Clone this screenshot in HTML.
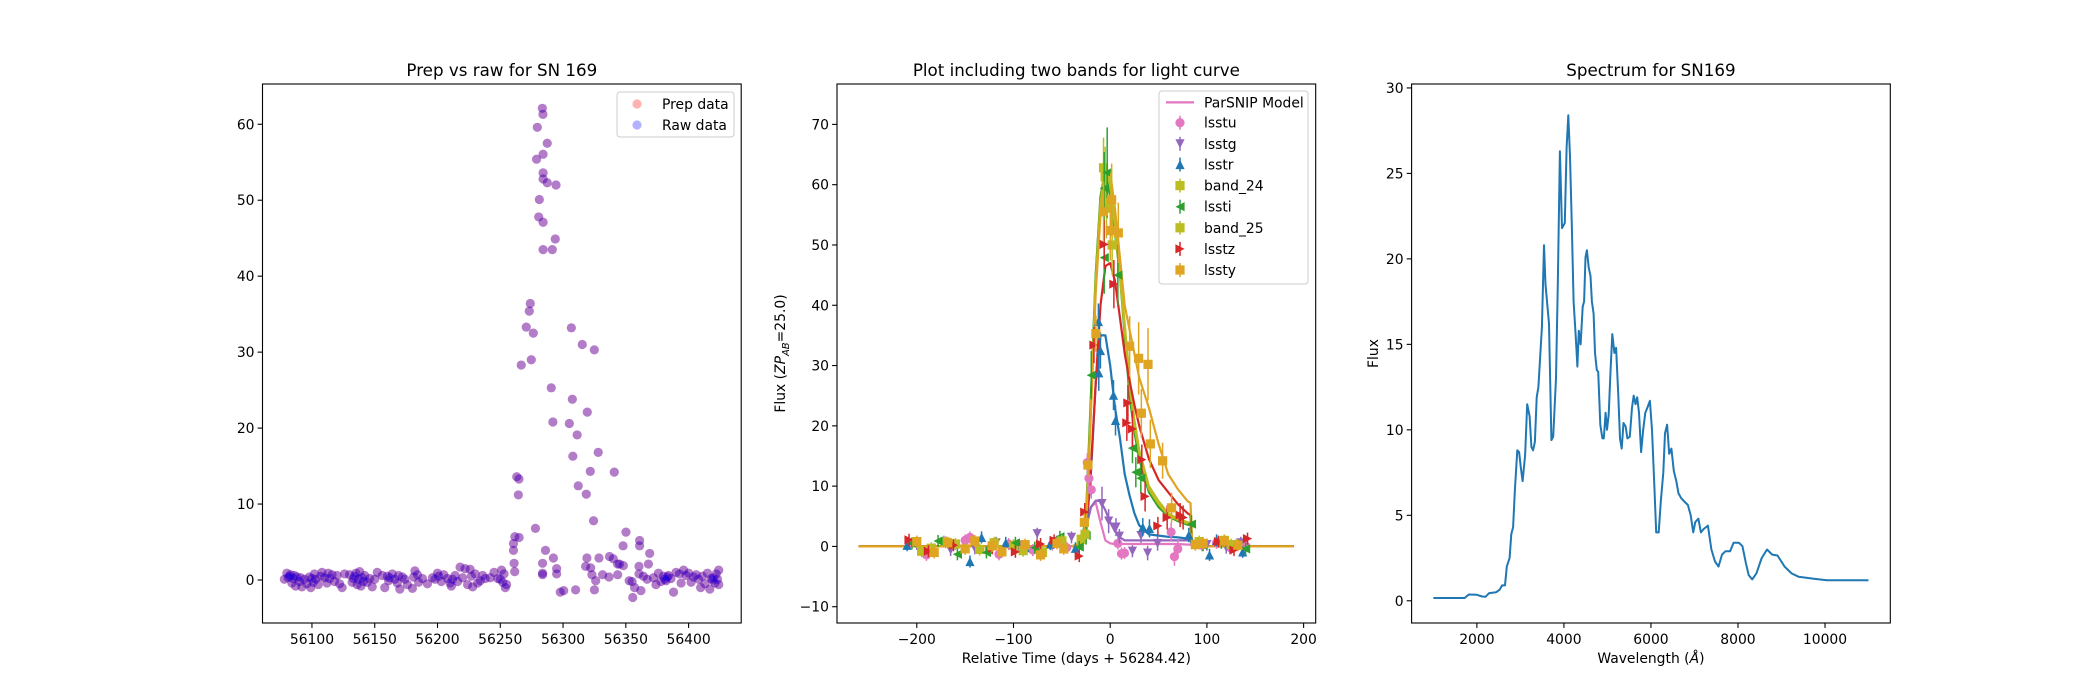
<!DOCTYPE html>
<html><head><meta charset="utf-8"><style>
html,body{margin:0;padding:0;background:#fff;}
svg{display:block;font-family:"DejaVu Sans","Liberation Sans",sans-serif;}
</style></head><body>
<svg id="fig" width="2100" height="700" viewBox="0 0 2100 700" xmlns="http://www.w3.org/2000/svg">
<rect width="2100" height="700" fill="#fff"/>
<g id="p1"></g>
<g id="p2"></g>
<g id="p3"></g>
</svg>
<script>
// ---------- Panel 1 data ----------
const p1Times = [56078,56080,56081,56082,56083,56084,56085,56086,56087,56088,56090,56091,56092,56094,56096,56098,56099,56100,56101,56102,56103,56105,56107,56108,56110,56112,56113,56114,56116,56118,56120,56122,56124,56126,56130,56132,56133,56134,56135,56136,56137,56138,56139,56140,56141,56142,56144,56146,56148,56150,56152,56156,56158,56160,56161,56162,56164,56166,56168,56169,56170,56172,56174,56176,56180,56181,56182,56184,56185,56188,56192,56196,56198,56200,56201,56203,56205,56208,56210,56211,56212,56214,56216,56218,56220,56222,56224,56226,56227,56228,56230,56232,56234,56236,56238,56242,56245,56248,56250,56251,56252,56253,56254,56255,
56260.5,56261.6,56265,56260.5,56261,56261.5,56263.1,56264.9,56264.4,56266.7,56270.7,56273.1,56273.9,56274.7,56276.3,56278,56278.9,56279.5,56280.6,56281.1,56283.5,56284,56284.1,56284.1,56284.1,56284.1,56284.1,56283.7,56283.7,56283.7,56286,56287.4,56287.4,56290.6,56291.4,56291.9,56292.3,56293.8,56294.4,56294.9,56294.9,56297.8,56300.5,56305,56306.6,56307.4,56307.8,56310,56311.2,56312.1,56315.3,56318,56318.5,56319,56319.3,56321.7,56322,56323,56324.3,56324.9,56325,56326,56328,56328.6,56331.5,56336.6,56337,56340,56340.8,56343.5,56343.5,56345,56347.8,56348,56350.1,56352.7,56355,56355.5,56357,56360.5,56360.5,56361,56361,56362,56364,56367,56368,56369,
56372,56374,56376,56378,56380,56381,56382,56383,56384,56386,56388,56390,56392.7,56394,56396,56398,56400,56402,56404,56406,56408,56409.6,56411,56413,56415,56416.9,56418,56419,56420,56421,56422,56423,56424,56424];
const p1Flux = [0.1,0.9,0.3,0.5,0.7,-0.4,0.2,0.6,-0.8,0.4,-0.2,0.3,-0.9,0.1,-0.5,0.4,-1.0,0.2,-0.3,0.8,0.1,-0.6,0.5,1.0,0.3,-0.4,0.9,0.2,0.7,-0.2,0.6,-0.5,-1.0,0.8,0.7,-0.3,0.2,0.5,0.9,-0.6,0.1,1.1,-0.8,0.3,-0.2,0.6,-0.3,0.2,-0.9,0.1,1.0,0.6,-1.0,0.5,-0.1,0.3,0.8,0.1,-0.4,0.6,-1.2,0.4,0.1,-0.6,-1.1,0.4,1.2,0.7,-0.3,0.2,-0.5,0.3,0.1,0.9,0.5,-0.2,0.7,0.2,-0.4,-0.8,0.1,0.6,-0.2,1.7,0.3,1.5,-0.6,1.4,0.5,-0.9,0.8,-0.4,-0.1,0.6,0.2,0.3,1.0,0.2,0.1,1.3,-0.3,0.8,-1.0,-0.6,
4.8,5.7,5.6,3.9,2.2,1.1,13.6,13.3,11.2,28.3,33.3,35.4,36.4,29.0,32.5,6.8,55.4,59.6,47.8,50.1,62.1,61.3,56.05,53.6,52.8,47.1,43.5,2.2,0.9,0.7,3.9,57.5,52.3,25.3,43.5,20.8,2.9,44.9,52.0,1.5,0.8,-1.6,-1.4,20.6,33.2,23.8,16.3,-1.3,19.1,12.4,31.0,1.8,11.3,2.9,22.1,14.3,1.6,0.7,7.8,30.3,-1.3,-0.1,16.8,2.9,0.7,0.4,3.1,2.8,14.2,2.1,0.7,2.1,4.5,1.9,6.3,-0.1,-0.2,-2.3,-1.0,1.8,0.8,5.2,4.5,-1.4,0.5,0.1,2.1,3.5,
0.3,-0.6,0.9,-0.2,0.5,0.1,-0.1,0.4,0.6,0.2,-1.6,1.0,0.8,-0.4,1.3,0.6,0.9,-0.3,0.4,0.7,0.1,-1.0,0.5,-0.5,0.9,-1.2,0.2,0.0,0.3,-0.4,0.8,0.1,1.3,-0.6];
const p1Ticks = [56100,56150,56200,56250,56300,56350,56400];
const p1YTicks = [0,10,20,30,40,50,60];

// ---------- Panel 2 data ----------
const bandNames = ["lsstu","lsstg","lsstr","band_24","lssti","band_25","lsstz","lssty"];
const bandColors = ["#e377c2","#9467bd","#1f77b4","#bcbd22","#2ca02c","#bcbd22","#d62728","#dfa421"];
const bandMarkers = ["o","v","^","s","<","s",">","s"];
const modelTimes = [-260,-40,-30,-25,-20,-15,-10,-5,0,5,10,15,20,25,30,40,50,60,70,80,83,85,190];
const modelU  = [0,0,0.2,3,6.5,7.3,4,1,0.5,0.4,0.4,0.4,0.4,0.4,0.4,0.4,0.4,0.4,0.4,0.3,0.3,0,0];
const modelG  = [0,0,0.3,3,6.5,7.6,7.5,6,4,2.5,1.5,1.0,1,1,1,1,1,1,1,1,1,0,0];
const modelR  = [0,0,0.3,2,12,27,35,35,30,23,18,12,8.5,5.5,3.5,2,1.8,1.6,1.5,1.3,1.2,0,0];
const model24 = [0,0,0.5,4,24,45,58,63,60,54,46,37,28,21,16,10,7.5,5.5,4.6,4,3.9,0,0];
const modelI  = [0,0,0.5,5,25,45,58,62,58,52,45,35,25,19,14.5,9,6.5,5,4.2,3.6,3.5,0,0];
const model25 = [0,0,0.5,4,23,44,57,62.5,60,53,45,36,27,20,15.5,9.5,7,5.2,4.4,3.8,3.7,0,0];
const modelZ  = [0,0,0.4,3,13,27,40,46.5,47,44,38,32,27.5,23.5,20,14.5,11,9,7,5.5,5.2,0,0];
const modelY  = [0,0,0.4,3,22,42,55,61.5,62,56,48,40,36,32,28,23,17,12,9.5,7.5,7.2,0,0];

const uT=[-208,-190,-172,-150,-145,-125,-115,-105,-80,-60,-45,-23.7,-22,-19.6,7.9,11.7,14.8,63,66.4,69.9,95,110,125,140];
const uF=[0.5,-1.4,0.8,1.0,1.5,-0.5,-1.3,0.4,-0.6,0.3,-0.2,13.9,11.3,9.4,0.5,-1.2,-1.1,2.4,-1.7,-0.4,0.2,0.6,-0.3,0.1];
const uE=[1,1,1,1,1,1,1,1,1,1,1,1.5,1.5,1.5,1,1,1,1.5,1.5,1.5,1,1,1,1];
const gT=[-200,-165,-140,-118,-95,-75.5,-55,-40,-8.5,-1.6,6,9.5,23,31.8,38.7,49,100,120,135];
const gF=[0.4,-0.6,-0.3,0.6,0.2,2.1,0.8,1.5,7.1,4.2,3.2,1.7,-0.8,1.8,-1.1,0.5,0.3,-0.2,0.6];
const gE=[1,1,1,1,1,1,1,1,2.8,2,1.5,1.2,1,1.2,1.2,1.2,1,1,1];
const rT=[-210,-182,-145,-133,-108,-88,-62,-36,-12.2,-10.1,-11.8,3.4,5.5,33.7,40.6,81.3,102.7,110,137];
const rF=[0.2,-0.5,-2.5,1.5,0.6,-0.2,0.4,-0.3,37.3,32.5,28.8,25.1,20.9,3.2,3.0,1.9,-1.4,1.0,-0.9];
const rE=[1,1,1,1,1,1,1,1,3,3,3,2.5,2.5,1.5,1.5,1.2,1,1,1];
const b24T=[-195,-170,-135,-100,-70,-30,-6.9,-5.2,-3.8,92,118,130];
const b24F=[-0.8,0.7,-0.5,0.2,-1.0,1.2,62.8,61.3,56.1,0.5,1.0,0.2];
const b24E=[1,1,1,1,1,1,5,5,5,1,1,1];
const iT=[-205,-178,-158,-128,-98,-78,-52,-32,-24.9,-19.6,-6.2,-6.2,-3.1,7.9,23,26.5,31.7,84,96,115,140];
const iF=[0.5,0.9,-1.3,-1.0,0.6,-0.2,1.6,-0.1,1.8,28.4,59.4,47.9,62,45,16.3,12.3,11.3,3.7,0.2,0.6,-0.4];
const iE=[1,1,1,1,1,1,1,1,1.5,4,6,6,7.5,5,2.5,2.5,2.5,1.5,1,1,1];
const b25T=[-185,-160,-120,-90,-50,-26,0.5,2,92,125];
const b25F=[-0.3,0.4,0.6,-0.7,0.9,2.0,57,50,0.8,0.3];
const b25E=[1,1,1,1,1,1,5,5,1,1];
const zT=[-208,-188,-162,-122,-98,-72,-58,-32,-26.3,-16.8,-6.2,3.8,17.2,18.3,23,32.7,36.1,49.3,58.9,72.3,75.4,112,128,142];
const zF=[1.1,-0.8,0.2,-0.3,-0.9,0.4,1.0,-1.6,5.7,33.4,50.1,43.5,20.5,23.8,19.5,14.4,8.3,3.4,4.8,5.2,4.8,0.8,-0.6,1.3];
const zE=[1,1,1,1,1,1,1,1,1.5,3,4,4,3,3,3,2.5,2.5,1.5,2,2,2,1,1,1];
const yT=[-200,-182,-168,-150,-140,-122,-112,-88,-72,-55,-48,-26.7,-23,-14.8,-6.9,1.5,0.1,8.4,20.1,29.4,39.1,32.2,41.5,54.2,63.5,88,96,118,132];
const yF=[0.8,-1.0,0.6,-0.4,0.9,0.1,-0.9,0.3,-1.4,0.5,-0.4,4,13.5,35.3,55.5,57.5,52.4,52,33.2,31.2,30.2,22.1,17,14.2,6.4,0.3,0.5,0.9,0.2];
const yE=[1,1,1,1,1,1,1,1,1,1,1,1.5,2,3,5,6,5,5,5,6,6,4,4,3,2.5,1,1,1,1];
const p2XTicks=[-200,-100,0,100,200];
const p2YTicks=[-10,0,10,20,30,40,50,60,70];

// ---------- Panel 3 data ----------
const specWave=[1000,1717,1814,2000,2121,2200,2283,2444,2525,2580,2646,2687,2752,2792,2832,2873,2929,2970,3010,3050,3107,3156,3212,3253,3293,3333,3374,3414,3495,3543,3576,3657,3713,3754,3818,3859,3907,3956,4020,4061,4101,4141,4182,4222,4271,4311,4343,4384,4432,4465,4497,4529,4570,4610,4642,4683,4715,4756,4788,4836,4885,4917,4958,4990,5030,5071,5111,5160,5200,5249,5289,5329,5370,5418,5459,5515,5564,5604,5644,5685,5725,5774,5822,5871,5919,5976,6024,6081,6121,6178,6226,6283,6323,6372,6420,6469,6525,6582,6630,6695,6768,6848,6913,6970,7018,7091,7148,7212,7309,7390,7471,7552,7632,7713,7818,7899,8020,8101,8182,8247,8327,8424,8545,8666,8787,8909,9070,9232,9394,9717,10040,10364,11000];
const specFlux=[0.16,0.16,0.37,0.35,0.25,0.24,0.45,0.5,0.65,0.9,0.9,2.0,2.5,3.9,4.3,6.5,8.8,8.7,7.8,7.0,8.5,11.5,10.8,9.0,8.8,9.3,11.9,12.5,16,20.8,18.5,16.2,9.4,9.6,13,18.5,26.3,21.8,22.1,26.5,28.4,26.0,22,17.5,15.5,13.7,15.8,15.0,17.2,17.5,20.1,20.5,19.5,19.0,17.5,16.8,14.5,13.5,13.4,10.3,9.5,9.5,11.0,10.0,10.9,13.4,15.6,14.5,14.8,12,9.5,8.9,10.4,10.2,9.5,9.6,11.3,12.0,11.5,11.9,11.0,8.7,10.0,11.0,11.3,11.7,10.0,6.5,4.0,4.0,5.8,7.5,9.8,10.3,8.6,8.9,7.6,7.0,6.3,6.0,5.8,5.6,5.0,4.0,4.6,4.8,4.0,4.2,4.4,3.0,2.3,2.0,2.7,2.9,2.9,3.4,3.4,3.2,2.2,1.5,1.25,1.6,2.5,3.0,2.7,2.65,2.0,1.6,1.4,1.3,1.2,1.2,1.2];
const p3XTicks=[2000,4000,6000,8000,10000];
const p3YTicks=[0,5,10,15,20,25,30];

// ---------- helpers ----------
const NS="http://www.w3.org/2000/svg";
function mk(parent,tag,attrs,text){const e=document.createElementNS(NS,tag);for(const k in attrs)e.setAttribute(k,attrs[k]);if(text!==undefined)e.textContent=text;parent.appendChild(e);return e;}
function axis(x0,x1,y0,y1,px,w,py,h){return{x:v=>px+(v-x0)/(x1-x0)*w,y:v=>py+h-(v-y0)/(y1-y0)*h,px,py,w,h};}
const TOP=84,H=539,W=478.7;
function fmt(v){return v<0?"\u2212"+(-v):String(v);}
function frame(g,ax,xt,yt,title){
  let t;
  for(const v of xt){const X=ax.x(v);
    t=mk(g,"line",{x1:X,x2:X,y1:ax.py+ax.h,y2:ax.py+ax.h+4.9,stroke:"#000","stroke-width":1.1});
    
    t=mk(g,"text",{x:X,y:ax.py+ax.h+21,"font-size":"13.9","text-anchor":"middle"},fmt(v));
    }
  for(const v of yt){const Y=ax.y(v);
    t=mk(g,"line",{x1:ax.px-4.9,x2:ax.px,y1:Y,y2:Y,stroke:"#000","stroke-width":1.1});
    
    t=mk(g,"text",{x:ax.px-8,y:Y+5,"font-size":"13.9","text-anchor":"end"},fmt(v));
    }
  t=mk(g,"rect",{x:ax.px,y:ax.py,width:ax.w,height:ax.h,fill:"none",stroke:"#000","stroke-width":1.1});
  
  t=mk(g,"text",{x:ax.px+ax.w/2,y:ax.py-8,"font-size":"16.7","text-anchor":"middle"},title);
  
}
function marker(g,type,x,y,c,s){
  let e;
  if(type==="o")e=mk(g,"circle",{cx:x,cy:y,r:s,fill:c});
  else if(type==="s")e=mk(g,"rect",{x:x-s,y:y-s,width:2*s,height:2*s,fill:c});
  else{let p;
    if(type==="v")p=[[x-s,y-s],[x+s,y-s],[x,y+s]];
    if(type==="^")p=[[x-s,y+s],[x+s,y+s],[x,y-s]];
    if(type==="<")p=[[x+s,y-s],[x+s,y+s],[x-s,y]];
    if(type===">")p=[[x-s,y-s],[x-s,y+s],[x+s,y]];
    e=mk(g,"polygon",{points:p.map(q=>q.join(",")).join(" "),fill:c});}
  return e;
}

// ---------- Panel 1 ----------
(function(){
  const g=document.getElementById("p1");
  const A=axis(56060.6,56441.9,-5.66,65.3,262.5,W,TOP,H);
  const pts=mk(g,"g",{});
  
  for(let i=0;i<p1Times.length;i++){
    let c=mk(pts,"circle",{cx:A.x(p1Times[i]),cy:A.y(p1Flux[i]),r:4.6,fill:"#ff0000","fill-opacity":0.3});
    
  }
  for(let i=0;i<p1Times.length;i++){
    let c=mk(pts,"circle",{cx:A.x(p1Times[i]),cy:A.y(p1Flux[i]),r:4.6,fill:"#0000ff","fill-opacity":0.3});
    
  }
  frame(g,A,p1Ticks,p1YTicks,"Prep vs raw for SN 169");
  const lg=mk(g,"g",{});
  
  mk(lg,"rect",{x:617,y:92,width:117,height:45,rx:3,fill:"#fff","fill-opacity":0.8,stroke:"#ccc"});
  let e=mk(lg,"circle",{cx:637,cy:104,r:4.6,fill:"#ff0000","fill-opacity":0.3});
  
  e=mk(lg,"text",{x:662,y:109,"font-size":"13.9"},"Prep data");
  
  e=mk(lg,"circle",{cx:637,cy:125,r:4.6,fill:"#0000ff","fill-opacity":0.3});
  
  e=mk(lg,"text",{x:662,y:130,"font-size":"13.9"},"Raw data");
  
})();

// ---------- Panel 2 ----------
(function(){
  const g=document.getElementById("p2");
  const A=axis(-282.5,212.5,-12.7,76.7,837,W,TOP,H);
  const models=[modelU,modelG,modelR,model24,modelI,model25,modelZ,modelY];
  const data=[[uT,uF,uE],[gT,gF,gE],[rT,rF,rE],[b24T,b24F,b24E],[iT,iF,iE],[b25T,b25F,b25E],[zT,zF,zE],[yT,yF,yE]];
  for(let b=0;b<8;b++){
    const m=models[b];
    const d=modelTimes.map((t,i)=>(i?"L":"M")+A.x(t).toFixed(1)+","+A.y(m[i]).toFixed(1)).join(" ");
    let p=mk(g,"path",{d:d,fill:"none",stroke:bandColors[b],"stroke-width":2.2,"stroke-linejoin":"round"});
    
  }
  for(let b=0;b<8;b++){
    const [T,F,E]=data[b];
    const sg=mk(g,"g",{});
    
    for(let i=0;i<T.length;i++){
      const X=A.x(T[i]);
      let l=mk(sg,"line",{x1:X,x2:X,y1:A.y(F[i]-E[i]),y2:A.y(F[i]+E[i]),stroke:bandColors[b],"stroke-width":1.5});
      
      let mm=marker(sg,bandMarkers[b],X,A.y(F[i]),bandColors[b],4.6);
      
    }
  }
  frame(g,A,p2XTicks,p2YTicks,"Plot including two bands for light curve");
  let t=mk(g,"text",{x:837+W/2,y:663,"font-size":"13.9","text-anchor":"middle"},"Relative Time (days + 56284.42)");
  
  t=mk(g,"text",{transform:"translate(785,"+(TOP+H/2)+") rotate(-90)","font-size":"13.9","text-anchor":"middle"});
  
  mk(t,"tspan",{},"Flux (");
  mk(t,"tspan",{"font-style":"italic"},"ZP");
  mk(t,"tspan",{"font-style":"italic","font-size":"10",dy:"4"},"AB");
  mk(t,"tspan",{dy:"-4"},"=25.0)");
  const lg=mk(g,"g",{});
  
  mk(lg,"rect",{x:1159,y:91,width:149,height:193,rx:3,fill:"#fff","fill-opacity":0.8,stroke:"#ccc"});
  let e=mk(lg,"line",{x1:1166,x2:1194,y1:102.4,y2:102.4,stroke:"#e377c2","stroke-width":2.2});
  
  e=mk(lg,"text",{x:1204,y:107.3,"font-size":"13.9"},"ParSNIP Model");
  
  const rows=[122.7,143.8,164.5,185.6,206.7,227.8,248.9,270];
  for(let b=0;b<8;b++){
    const Y=rows[b];
    e=mk(lg,"line",{x1:1180,x2:1180,y1:Y-7,y2:Y+7,stroke:bandColors[b],"stroke-width":1.5});
    
    e=marker(lg,bandMarkers[b],1180,Y,bandColors[b],4.6);
    
    e=mk(lg,"text",{x:1204,y:Y+5,"font-size":"13.9"},bandNames[b]);
    
  }
})();

// ---------- Panel 3 ----------
(function(){
  const g=document.getElementById("p3");
  const A=axis(500,11500,-1.3,30.23,1411.6,W,TOP,H);
  const d=specWave.map((w,i)=>(i?"L":"M")+A.x(w).toFixed(1)+","+A.y(specFlux[i]).toFixed(1)).join(" ");
  let p=mk(g,"path",{d:d,fill:"none",stroke:"#1f77b4","stroke-width":2,"stroke-linejoin":"round"});
  
  frame(g,A,p3XTicks,p3YTicks,"Spectrum for SN169");
  let t=mk(g,"text",{x:1411.6+W/2,y:663,"font-size":"13.9","text-anchor":"middle"});
  
  mk(t,"tspan",{},"Wavelength (");
  mk(t,"tspan",{"font-style":"italic"},"Å");
  mk(t,"tspan",{},")");
  t=mk(g,"text",{transform:"translate(1378,"+(TOP+H/2)+") rotate(-90)","font-size":"13.9","text-anchor":"middle"},"Flux");
  
})();
</script>
</body></html>
